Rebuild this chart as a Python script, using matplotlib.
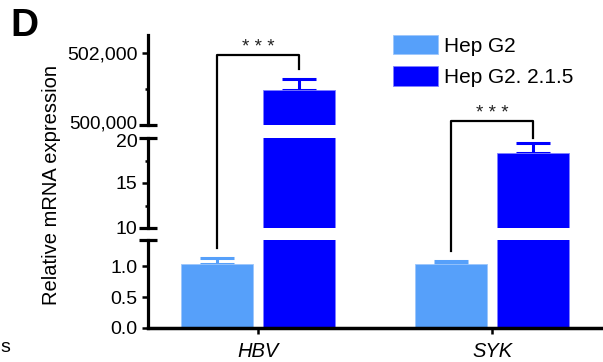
import numpy as np
import matplotlib
matplotlib.use('Agg')
from matplotlib import pyplot as plt
from matplotlib.lines import Line2D
from matplotlib.patches import Patch
from matplotlib.transforms import ScaledTranslation

plt.rcParams['font.family'] = ['Liberation Sans', 'DejaVu Sans']

# data
categories = ['HBV', 'SYK']
series = ['Hep G2', 'Hep G2. 2.1.5']
hepg2 = [1.03, 1.03]
hepg2_err = [0.10, 0.05]
hepg215 = [500972, 18.33]
hepg215_err = [306, 1.11]

light = '#56A0FA'
dark = '#0000FF'

W, H = 603, 362
fig = plt.figure(figsize=(W / 100, H / 100), dpi=100)


def rect(top_px, bot_px, left_px=148, right_px=602):
    return [left_px / W, 1 - bot_px / H, (right_px - left_px) / W, (bot_px - top_px) / H]


ax_top = fig.add_axes(rect(35, 125))
ax_mid = fig.add_axes(rect(138, 228))
ax_bot = fig.add_axes(rect(240, 328))
axes = [ax_top, ax_mid, ax_bot]

x = np.arange(len(categories))
off = 0.175
bw = 0.308

for ax in axes:
    ax.bar(x - off, hepg2, bw, color=light, edgecolor='#9cc6fb', linewidth=0.6, zorder=2)
    ax.bar(x + off, hepg215, bw, color=dark, edgecolor='#8080ff', linewidth=0.6, zorder=2)
    ax.errorbar(x - off, hepg2, yerr=[np.zeros(2), hepg2_err], fmt='none',
                ecolor=light, elinewidth=2.2, capsize=12, capthick=2.2, zorder=1)
    ax.errorbar(x + off, hepg215, yerr=[np.zeros(2), hepg215_err], fmt='none',
                ecolor=dark, elinewidth=2.2, capsize=12, capthick=2.2, zorder=1)
    ax.set_xlim(-0.47, 1.47)
    for s in ['top', 'right', 'bottom']:
        ax.spines[s].set_visible(False)
    ax.spines['left'].set_linewidth(2.3)
    ax.tick_params(axis='y', direction='out', length=4.5, width=1.8, pad=3,
                   labelsize=14)
    ax.tick_params(axis='y', which='minor', direction='out', length=2.5, width=1.8)
    ax.set_facecolor('none')

ax_top.set_ylim(500000, 502500)
ax_top.set_yticks([500000, 502000])
ax_top.set_yticklabels(['500,000', '502,000'])
ax_top.set_yticks([501000], minor=True)
ax_top.set_xticks([])

ax_mid.set_ylim(10, 20)
ax_mid.set_yticks([10, 15, 20])
ax_mid.set_yticks([12.5, 17.5], minor=True)
ax_mid.set_xticks([])

ax_bot.set_ylim(0, 1.42)
ax_bot.set_yticks([0, 0.5, 1.0])
ax_bot.set_yticklabels(['0.0', '0.5', '1.0'])
ax_bot.spines['bottom'].set_visible(True)
ax_bot.spines['bottom'].set_linewidth(2.5)
ax_bot.set_xticks(x)
ax_bot.set_xticklabels(categories, fontsize=14.5, style='italic')
ax_bot.tick_params(axis='x', direction='out', length=4, width=1.8, pad=6)

# keep the labels either side of the top break apart
lab = ax_top.get_yticklabels()[0]
lab.set_fontsize(13.5)
lab.set_transform(lab.get_transform() + ScaledTranslation(0, 2 / 72, fig.dpi_scale_trans))
lab = ax_mid.get_yticklabels()[2]
lab.set_transform(lab.get_transform() + ScaledTranslation(0, -1.5 / 72, fig.dpi_scale_trans))

# caps at the axis breaks
for ax, ys in [(ax_top, [0]), (ax_mid, [0, 1]), (ax_bot, [1])]:
    for yy in ys:
        ax.plot([-0.02, 0.02], [yy, yy], transform=ax.transAxes, color='black',
                lw=2.3, clip_on=False, solid_capstyle='butt')


def to_fig(ax, xd, yd):
    p = ax.transData.transform((xd, yd))
    return fig.transFigure.inverted().transform(p)


def bracket(xl, xr, ax_l, yl, ax_h, yh, ax_r, yr):
    pts = [to_fig(ax_l, xl, yl), to_fig(ax_h, xl, yh), to_fig(ax_h, xr, yh), to_fig(ax_r, xr, yr)]
    pts = np.array(pts)
    fig.add_artist(Line2D(pts[:, 0], pts[:, 1], transform=fig.transFigure,
                          color='black', lw=1.6))
    mx, my = to_fig(ax_h, (xl + xr) / 2, yh)
    fig.text(mx, my - 1 / H, '* * *', ha='center', va='bottom', fontsize=13.5, color='#222222')


# significance brackets
bracket(0 - off, 0 + off, ax_bot, 1.29, ax_top, 501944, ax_top, 501556)
bracket(1 - off, 1 + off, ax_bot, 1.24, ax_mid, 21.9, ax_mid, 20.0)

# legend
handles = [Patch(facecolor=light, edgecolor='#9cc6fb', lw=0.6),
           Patch(facecolor=dark, edgecolor='#8080ff', lw=0.6)]
fig.legend(handles, series, loc='upper left', bbox_to_anchor=(393 / W, 1 - 35 / H),
           frameon=False, fontsize=15, handlelength=2.16, handleheight=1.06,
           labelspacing=0.5, handletextpad=0.3, borderpad=0, borderaxespad=0)

fig.text(52 / W, 1 - 185 / H, 'Relative mRNA expression', rotation=90,
         ha='center', va='center', fontsize=14.5)
fig.text(10 / W, 1 - 26 / H, 'D', fontsize=28, fontweight='bold', va='center', ha='left')
fig.text(0, 1 - 347 / H, 's', fontsize=14, va='center', ha='left')

fig.savefig('out.png', dpi=100)
